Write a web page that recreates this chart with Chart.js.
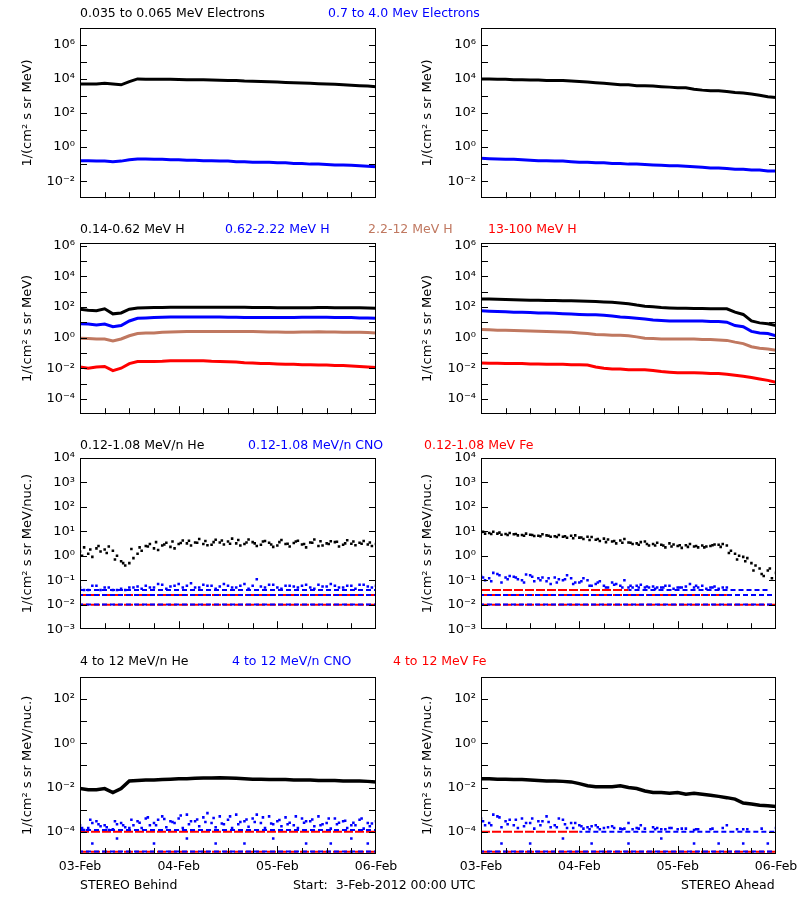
<!DOCTYPE html>
<html><head><meta charset="utf-8">
<script src="https://cdn.jsdelivr.net/npm/chart.js@4/dist/chart.umd.min.js"></script>
<style>
body{margin:0;background:#fff;width:800px;height:900px;position:relative;overflow:hidden;font-family:"DejaVu Sans",sans-serif;}
canvas{position:absolute;}
.t{position:absolute;font-size:12.5px;white-space:nowrap;z-index:5;line-height:14px;}
</style></head><body>
<div class="t" style="left:80px;top:6px;color:#000">0.035 to 0.065 MeV Electrons</div>
<div class="t" style="left:328px;top:6px;color:#00f">0.7 to 4.0 Mev Electrons</div>
<div class="t" style="left:80px;top:222px;color:#000">0.14-0.62 MeV H</div>
<div class="t" style="left:225px;top:222px;color:#00f">0.62-2.22 MeV H</div>
<div class="t" style="left:368px;top:222px;color:#c07860">2.2-12 MeV H</div>
<div class="t" style="left:488px;top:222px;color:#f00">13-100 MeV H</div>
<div class="t" style="left:80px;top:438px;color:#000">0.12-1.08 MeV/n He</div>
<div class="t" style="left:248px;top:438px;color:#00f">0.12-1.08 MeV/n CNO</div>
<div class="t" style="left:424px;top:438px;color:#f00">0.12-1.08 MeV Fe</div>
<div class="t" style="left:80px;top:654px;color:#000">4 to 12 MeV/n He</div>
<div class="t" style="left:232px;top:654px;color:#00f">4 to 12 MeV/n CNO</div>
<div class="t" style="left:393px;top:654px;color:#f00">4 to 12 MeV Fe</div>
<div class="t" style="left:80px;top:878px;color:#000">STEREO Behind</div>
<div class="t" style="left:293px;top:878px;color:#000">Start:&nbsp; 3-Feb-2012 00:00 UTC</div>
<div class="t" style="left:681px;top:878px;color:#000">STEREO Ahead</div>
<script>
// ---------- data ----------
const hours = [0,2,4,6,8,10,12,14,16,18,20,22,24,26,28,30,32,34,36,38,40,42,44,46,48,50,52,54,56,58,60,62,64,66,68,70,72];
const hoursMid = [1,3,5,7,9,11,13,15,17,19,21,23,25,27,29,31,33,35,37,39,41,43,45,47,49,51,53,55,57,59,61,63,65,67,69,71];
const hoursQ = [0.5,2.5,4.5,6.5,8.5,10.5,12.5,14.5,16.5,18.5,20.5,22.5,24.5,26.5,28.5,30.5,32.5,34.5,36.5,38.5,40.5,42.5,44.5,46.5,48.5,50.5,52.5,54.5,56.5,58.5,60.5,62.5,64.5,66.5,68.5,70.5];
const dayTicks = [0,24,48,72];
const dayLabels = ["03-Feb","04-Feb","05-Feb","06-Feb"];

// Row 1: electrons
const eLoBehind = [5e3,5e3,5e3,5.5e3,5e3,4.5e3,7e3,1e4,9.5e3,9.5e3,9.5e3,9.5e3,9.2e3,9e3,9e3,8.8e3,8.5e3,8.3e3,8e3,8e3,7.5e3,7.3e3,7e3,6.8e3,6.5e3,6.2e3,6e3,5.8e3,5.5e3,5.2e3,5e3,4.8e3,4.5e3,4.2e3,4e3,3.8e3,3.5e3];
const eHiBehind = [0.16,0.16,0.15,0.15,0.14,0.15,0.18,0.2,0.2,0.19,0.19,0.18,0.18,0.17,0.17,0.16,0.16,0.15,0.15,0.14,0.14,0.13,0.13,0.13,0.12,0.12,0.11,0.11,0.1,0.1,0.095,0.09,0.09,0.085,0.08,0.075,0.07];
const eLoAhead = [1e4,1e4,9.5e3,9.5e3,9e3,9e3,8.5e3,8.5e3,8e3,8e3,8e3,7.5e3,7e3,6.5e3,6e3,5.5e3,5e3,4.5e3,4.5e3,4e3,4e3,3.8e3,3.5e3,3.3e3,3e3,3e3,2.5e3,2.2e3,2e3,2e3,1.8e3,1.6e3,1.5e3,1.3e3,1.1e3,9e2,8e2];
const eHiAhead = [0.22,0.21,0.2,0.19,0.19,0.18,0.17,0.16,0.16,0.15,0.15,0.14,0.13,0.13,0.12,0.12,0.11,0.11,0.1,0.1,0.095,0.09,0.085,0.08,0.08,0.075,0.07,0.065,0.06,0.06,0.055,0.05,0.05,0.045,0.045,0.04,0.04];

// Row 2: protons
const h1Behind = [70,60,55,75,35,40,70,85,88,90,92,93,95,95,95,95,95,95,95,95,95,90,90,90,88,88,88,88,88,90,90,88,88,88,88,85,80];
const h2Behind = [8,7.5,6.5,7.5,5,6,12,18,19,20,21,22,22,22,22,22,22,22,21,21,20,20,20,20,20,20,20,21,21,21,21,20,20,20,19,19,18];
const h3Behind = [0.9,0.85,0.8,0.8,0.6,0.8,1.3,1.8,2,2,2.2,2.3,2.4,2.5,2.5,2.5,2.5,2.5,2.5,2.5,2.5,2.5,2.4,2.3,2.3,2.2,2.2,2.3,2.3,2.4,2.3,2.3,2.2,2.2,2.2,2.1,2];
const h4Behind = [0.012,0.01,0.012,0.013,0.007,0.01,0.02,0.027,0.027,0.027,0.028,0.03,0.03,0.03,0.03,0.03,0.028,0.027,0.026,0.025,0.023,0.022,0.02,0.02,0.019,0.018,0.018,0.017,0.017,0.016,0.016,0.015,0.015,0.014,0.013,0.012,0.011];
const h1Ahead = [320,320,310,300,290,280,270,270,260,260,250,250,240,230,220,210,200,180,160,130,110,100,90,85,80,80,78,78,76,75,75,45,32,12,9,8,6];
const h2Ahead = [55,52,50,48,45,44,42,40,40,38,36,34,32,30,30,28,25,22,20,18,16,14,13,12,12,12,12,12,11,11,10,6,5,2.5,2,1.8,1.3];
const h3Ahead = [3.3,3.2,3,3,2.9,2.8,2.7,2.6,2.5,2.4,2.3,2.2,2,1.8,1.6,1.5,1.4,1.4,1.3,1.1,0.9,0.85,0.8,0.8,0.8,0.8,0.8,0.75,0.75,0.7,0.65,0.5,0.4,0.25,0.2,0.18,0.15];
const h4Ahead = [0.022,0.021,0.021,0.02,0.02,0.02,0.019,0.019,0.018,0.018,0.018,0.017,0.017,0.016,0.012,0.01,0.009,0.009,0.008,0.008,0.008,0.007,0.006,0.0055,0.005,0.005,0.005,0.0048,0.0045,0.0045,0.004,0.0035,0.003,0.0025,0.002,0.0016,0.0012];

// Row 3: 0.12-1.08 MeV/n
const heLoBehindA = [1.5,1.2,2.0,1.8,1.6,0.6,0.5,1.2,2.5,2.0,2.6,2.3,3.0,3.2,3.5,3.0,2.8,3.5,3.8,3.2,3.0,3.6,2.8,3.4,2.6,3.0,3.3,2.9,3.5,2.5,3.2,3.6,2.8,3.1,3.4,2.9,3.0];
const heLoBehindB = [2.2,0.9,1.5,2.4,1.0,0.4,0.8,1.6,3.0,1.7,3.4,2.0,4.2,2.6,4.8,2.7,4.5,2.9,5.0,2.6,4.6,2.5,4.0,2.3,4.4,2.4,4.1,2.2,4.6,2.6,3.9,2.4,4.3,2.7,4.0,2.5];
const heLoBehindC = [1.0,1.8,2.5,1.3,0.7,0.5,1.9,2.2,2.4,3.6,2.9,3.8,3.3,4.1,3.4,4.0,3.6,4.2,3.1,4.4,3.5,3.2,3.8,2.9,3.6,3.1,3.8,3.0,3.4,3.9,3.0,3.7,3.2,3.8,3.1,3.5];
const cnoLoBehindA = [0.05,0.04,0.06,0.05,0.04,0.045,0.05,0.055,0.06,0.05,0.065,0.055,0.07,0.06,0.05,0.065,0.06,0.055,0.06,0.05,0.07,0.06,0.055,0.065,0.05,0.06,0.055,0.06,0.05,0.065,0.055,0.06,0.05,0.06,0.065,0.055,0.06];
const cnoLoBehindB = [0.04,0.06,0.04,0.05,0.04,0.04,0.05,0.045,0.05,0.07,0.045,0.06,0.05,0.075,0.05,0.06,0.045,0.07,0.05,0.06,0.045,0.11,0.05,0.065,0.045,0.06,0.05,0.065,0.045,0.055,0.07,0.05,0.06,0.045,0.065,0.05];
const heLoAheadA = [9,8.5,8,7.8,7.5,7,7.2,6.5,6.8,6.2,6,6.5,5.5,6,4.5,5,3.8,4.2,3.5,3.2,3.8,3,2.8,3.2,2.5,2.7,2.4,2.6,2.5,2.8,2.6,1.2,0.9,0.5,0.3,0.25,0.2];
const heLoAheadB = [8,9.5,7.2,8.5,6.8,8,6.4,7.5,6,7,5.4,6.8,4.8,5.8,4,4.6,3.2,4.8,3,3.6,2.6,3.4,2.2,2.9,2.1,3,2.2,2.4,2.9,3,1.6,1,0.8,0.4,0.15,0.12];
const heLoAheadC = [9.5,7.8,8.8,7,7.8,6.6,7,6.2,6.6,5.8,6.2,5.2,5.6,4.4,4.8,3.6,4,3.4,3.4,2.8,3,2.6,2.6,2.4,2.7,2.3,2.5,2.2,2.7,2.3,1.3,0.7,0.6,0.25,0.18,0.3];
const cnoLoAheadA = [0.15,0.12,0.18,0.13,0.14,0.1,0.16,0.12,0.09,0.13,0.1,0.12,0.08,0.1,0.07,0.06,0.08,0.06,0.05,0.06,0.05,0.055,0.05,0.06,0.05,0.055,0.05,0.06,0.05,0.045,0.05,null,null,null,null,null,null];
const cnoLoAheadB = [0.1,0.2,0.08,0.15,0.11,0.17,0.09,0.13,0.07,0.11,0.16,0.08,0.12,0.06,0.09,0.05,0.07,0.1,0.05,0.065,0.05,0.05,0.06,0.045,0.05,0.07,0.05,0.045,0.055,0.05,null,null,null,null,null,null];
const cnoLoAheadC = [0.13,0.09,0.16,0.11,0.13,0.08,0.14,0.1,0.12,0.08,0.11,0.07,0.09,0.06,0.08,0.05,0.065,0.05,0.06,0.05,0.055,0.045,0.05,null,0.05,null,0.06,null,0.05,null,null,null,null,null,null,null];

// Row 4: 4-12 MeV/n
const heHiBehind = [0.009,0.008,0.008,0.009,0.006,0.009,0.02,0.021,0.022,0.022,0.023,0.024,0.025,0.025,0.026,0.027,0.027,0.028,0.027,0.026,0.025,0.024,0.024,0.023,0.023,0.023,0.022,0.022,0.022,0.021,0.021,0.021,0.02,0.02,0.02,0.019,0.018];
const cnoHiBehindA = [2e-4,1.5e-4,3e-4,2e-4,1.3e-4,2.5e-4,1.5e-4,3e-4,4e-4,2.5e-4,5e-4,3e-4,4e-4,6e-4,3e-4,4.5e-4,2.5e-4,5e-4,3.5e-4,6e-4,3e-4,4e-4,2.5e-4,5e-4,3e-4,4.5e-4,2e-4,4e-4,3e-4,5e-4,2.5e-4,4e-4,3e-4,2e-4,3.5e-4,2.5e-4,3e-4];
const cnoHiBehindB = [1.2e-4,2.5e-4,1.8e-4,1.2e-4,2.2e-4,1.6e-4,2e-4,1.5e-4,2e-4,3.5e-4,1.6e-4,2.5e-4,1.5e-4,3e-4,1.8e-4,7e-4,1.6e-4,2.2e-4,1.5e-4,2.8e-4,1.7e-4,6e-4,1.5e-4,2.2e-4,1.8e-4,2.6e-4,1.5e-4,3e-4,1.8e-4,2.2e-4,1.4e-4,2.6e-4,1.5e-4,2e-4,1.4e-4,2.4e-4];
const cnoHiBehindC = [1.5e-4,3.5e-4,2.2e-4,1.6e-4,3e-4,2e-4,3.5e-4,2.6e-4,4.5e-4,2e-4,3.8e-4,2.8e-4,5.5e-4,2.2e-4,3.6e-4,2.8e-4,4.2e-4,2.4e-4,5e-4,2.2e-4,3.6e-4,2.8e-4,4.5e-4,2.4e-4,3.4e-4,2.2e-4,5e-4,2.6e-4,3.6e-4,2e-4,4e-4,2.2e-4,3.2e-4,2.6e-4,4e-4,1.8e-4];
const cnoHiBehindLowX = [3,9,18,26,33,40,47,55,61,66,70];
const cnoHiBehindLowY = [3e-5,5e-5,3e-5,5e-5,3e-5,3e-5,5e-5,3e-5,3e-5,5e-5,3e-5];
const heHiAhead = [0.025,0.025,0.024,0.024,0.023,0.023,0.022,0.021,0.02,0.02,0.019,0.018,0.015,0.012,0.011,0.011,0.011,0.012,0.01,0.009,0.007,0.006,0.006,0.0055,0.006,0.005,0.0055,0.005,0.0045,0.004,0.0035,0.003,0.002,0.0018,0.0016,0.0015,0.0014];
const cnoHiAheadA = [4e-4,2.5e-4,5e-4,3e-4,2e-4,4e-4,2.5e-4,3e-4,5e-4,2e-4,3.5e-4,2.5e-4,2e-4,1.6e-4,2e-4,1.5e-4,1.8e-4,1.4e-4,2.5e-4,1.5e-4,1.4e-4,1.6e-4,1.3e-4,1.5e-4,1.3e-4,1.4e-4,1.2e-4,null,1.3e-4,null,2e-4,null,1.3e-4,null,null,null,1.5e-4];
const cnoHiAheadB = [2e-4,6e-4,1.6e-4,3.5e-4,1.5e-4,2.5e-4,1.4e-4,3e-4,1.6e-4,4e-4,1.5e-4,2.5e-4,1.4e-4,1.8e-4,1.3e-4,1.6e-4,null,1.4e-4,1.3e-4,2e-4,null,1.5e-4,1.3e-4,null,1.4e-4,null,1.3e-4,null,null,1.5e-4,null,null,1.3e-4,null,null,null];
const cnoHiAheadC = [3e-4,2e-4,4.5e-4,2.2e-4,3.5e-4,1.8e-4,4e-4,2e-4,2.8e-4,1.6e-4,2.2e-4,1.5e-4,1.8e-4,1.3e-4,1.6e-4,null,1.5e-4,1.3e-4,null,1.4e-4,null,1.3e-4,null,1.5e-4,null,null,1.3e-4,null,1.4e-4,null,null,1.3e-4,null,null,1.4e-4,null];
const cnoHiAheadLowX = [5,12,20,27,36,44,52,58,64,70];
const cnoHiAheadLowY = [3e-5,3e-5,5e-5,3e-5,3e-5,5e-5,3e-5,3e-5,3e-5,3e-5];

// background (one-count) levels: [startHour, endHour, value]
const bgRow3Behind = {blue:[[0,72,0.04],[0,72,0.025],[0,72,0.0102]], red:[[0,72,0.025],[0,72,0.01]]};
const bgRow3Ahead = {blue:[[36,70,0.04],[0,72,0.025],[0,72,0.0102]], red:[[0,36,0.04],[0,60,0.025],[0,72,0.01]]};
const bgRow4Behind = {blue:[[0,72,1.2e-4],[0,72,1.3e-5]], red:[[0,72,1e-4],[0,72,1.28e-5]]};
const bgRow4Ahead = {blue:[[24,72,1e-4],[0,72,1.3e-5]], red:[[0,24,1e-4],[0,72,1.28e-5]]};

// ---------- helpers ----------
const BLACK='#000', BLUE='#0000ff', BROWN='#c07860', RED='#ff0000';
const pts=(xs,ys)=>xs.map((x,i)=>({x:x,y:ys[i]})).filter(p=>p.y!=null);
const line=(ys,c,w)=>({data:pts(hours,ys),borderColor:c,backgroundColor:c,showLine:true,pointRadius:0,borderWidth:w||3,order:1});
const dots=(xs,ys,c)=>({data:pts(xs,ys),borderColor:c,backgroundColor:c,showLine:false,pointRadius:1.8,pointStyle:'rect',borderWidth:0,order:1});
function bg(spec){
  const out=[];
  spec.blue.forEach(s=>out.push({data:[{x:s[0],y:s[2]},{x:s[1],y:s[2]}],borderColor:BLUE,showLine:true,pointRadius:0,borderWidth:2,borderDash:[5,3],borderDashOffset:2,order:2}));
  spec.red.forEach(s=>out.push({data:[{x:s[0],y:s[2]},{x:s[1],y:s[2]}],borderColor:RED,showLine:true,pointRadius:0,borderWidth:2,borderDash:[9,2],order:2}));
  return out;
}
const SUP={'0':'⁰','1':'¹','2':'²','3':'³','4':'⁴','5':'⁵','6':'⁶','7':'⁷','8':'⁸','9':'⁹','-':'⁻'};
const sup=n=>String(n).split('').map(c=>SUP[c]).join('');

const boxPlugin={id:'box',afterDraw(ch){
  const a=ch.chartArea,ctx=ch.ctx,y=ch.scales.y,x=ch.scales.x;
  ctx.save();ctx.strokeStyle='#000';ctx.lineWidth=1;
  ctx.strokeRect(Math.round(a.left)+0.5,Math.round(a.top)+0.5,Math.round(a.width)-1,Math.round(a.height)-1);
  ctx.beginPath();
  ch.options.tickExps.forEach(e=>{const py=Math.round(y.getPixelForValue(Math.pow(10,e)))+0.5;
    if(py<a.top+1||py>a.bottom-1)return;
    ctx.moveTo(a.left,py);ctx.lineTo(a.left+7,py);ctx.moveTo(a.right-7,py);ctx.lineTo(a.right,py);});
  for(let h=6;h<72;h+=6){const px=Math.round(x.getPixelForValue(h))+0.5;ctx.moveTo(px,a.bottom);ctx.lineTo(px,a.bottom-(h%24===0?8:6));}
  ctx.stroke();
  if(ch.options.bottomLabels){
    ctx.fillStyle='#000';ctx.font='12.5px "DejaVu Sans"';ctx.textAlign='center';ctx.textBaseline='middle';
    dayTicks.forEach((v,i)=>ctx.fillText(dayLabels[i],x.getPixelForValue(v),a.bottom+13));
  }
  ctx.restore();
}};

function panel(left,top,boxH,yMin,yMax,labelExps,tickExps,ytitle,datasets,bottom){
  const c=document.createElement('canvas');
  const padTop=8, xh=bottom?24:8;
  const W=400,H=boxH+padTop+xh;
  c.width=W;c.height=H;c.style.left=left+'px';c.style.top=(top-padTop)+'px';
  document.body.appendChild(c);
  const yw=left===0?80:81;
  new Chart(c,{type:'scatter',data:{datasets:datasets},plugins:[boxPlugin],
    options:{responsive:false,animation:false,devicePixelRatio:1,tickExps:tickExps,bottomLabels:!!bottom,
      layout:{padding:{top:padTop,right:24,left:0,bottom:0}},
      plugins:{legend:{display:false},tooltip:{enabled:false}},
      scales:{
        x:{type:'linear',min:0,max:72,grid:{display:false},border:{display:false},
          afterFit:s=>{s.height=xh;},
          ticks:{display:false}},
        y:{type:'logarithmic',min:yMin,max:yMax,grid:{display:false,drawTicks:false},border:{display:false},
          afterBuildTicks:s=>{s.ticks=labelExps.map(e=>({value:Math.pow(10,e)}));},
          afterFit:s=>{s.width=yw;},
          ticks:{color:'#000',padding:5,font:{family:'DejaVu Sans',size:13},
            callback:v=>'10'+sup(Math.round(Math.log10(v)))},
          title:{display:true,text:ytitle,color:'#000',font:{family:'DejaVu Sans',size:13},padding:{top:20,bottom:0}}}
      }}});
}
const T1='1/(cm² s sr MeV)', T2='1/(cm² s sr MeV/nuc.)';
const r1L=[-2,0,2,4,6], r1T=[-2,-1,0,1,2,3,4,5,6];
const r2L=[-4,-2,0,2,4,6], r2T=[-4,-3,-2,-1,0,1,2,3,4,5,6];
const r3L=[-3,-2,-1,0,1,2,3,4], r3T=[-2,-1,0,1,2,3];
const r4L=[-4,-2,0,2], r4T=[-4,-3,-2,-1,0,1,2];

panel(0,23,180,1e-3,1e7,r1L,r1T,T1,[line(eLoBehind,BLACK),line(eHiBehind,BLUE)]);
panel(400,23,180,1e-3,1e7,r1L,r1T,T1,[line(eLoAhead,BLACK),line(eHiAhead,BLUE)]);
panel(0,238,181,1e-5,1.5e6,r2L,r2T,T1,[line(h1Behind,BLACK),line(h2Behind,BLUE),line(h3Behind,BROWN),line(h4Behind,RED)]);
panel(400,238,181,1e-5,1.5e6,r2L,r2T,T1,[line(h1Ahead,BLACK),line(h2Ahead,BLUE),line(h3Ahead,BROWN),line(h4Ahead,RED)]);
panel(0,453,181,1e-3,1e4,r3L,r3T,T2,[dots(hours,heLoBehindA,BLACK),dots(hoursMid,heLoBehindB,BLACK),dots(hoursQ,heLoBehindC,BLACK),dots(hours,cnoLoBehindA,BLUE),dots(hoursMid,cnoLoBehindB,BLUE)].concat(bg(bgRow3Behind)));
panel(400,453,181,1e-3,1e4,r3L,r3T,T2,[dots(hours,heLoAheadA,BLACK),dots(hoursMid,heLoAheadB,BLACK),dots(hoursQ,heLoAheadC,BLACK),dots(hours,cnoLoAheadA,BLUE),dots(hoursMid,cnoLoAheadB,BLUE),dots(hoursQ,cnoLoAheadC,BLUE)].concat(bg(bgRow3Ahead)));
panel(0,672,182,1e-5,1e3,r4L,r4T,T2,[line(heHiBehind,BLACK,3.5),dots(hours,cnoHiBehindA,BLUE),dots(hoursMid,cnoHiBehindB,BLUE),dots(hoursQ,cnoHiBehindC,BLUE),dots(cnoHiBehindLowX,cnoHiBehindLowY,BLUE)].concat(bg(bgRow4Behind)),true);
panel(400,672,182,1e-5,1e3,r4L,r4T,T2,[line(heHiAhead,BLACK,3.5),dots(hours,cnoHiAheadA,BLUE),dots(hoursMid,cnoHiAheadB,BLUE),dots(hoursQ,cnoHiAheadC,BLUE),dots(cnoHiAheadLowX,cnoHiAheadLowY,BLUE)].concat(bg(bgRow4Ahead)),true);
</script></body></html>
